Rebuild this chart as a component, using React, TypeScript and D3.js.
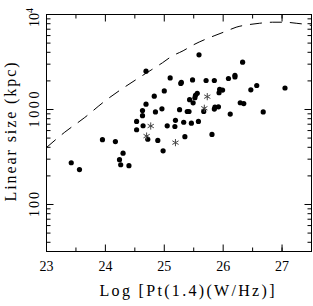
import React from 'react';
import * as d3 from 'd3';

// radio power (log W/Hz) and linear size (kpc) for the filled dots
const dotPower = [
  24.69, 24.83, 24.69, 24.63, 24.85, 24.63, 24.53, 24.64, 24.53, 24.72, 24.89, 23.95, 24.17,
  25.59, 26.33, 25.10, 25.29, 25.28, 25.48, 25.71, 25.85, 26.09, 26.20, 26.20, 25.00,
  25.56, 25.53, 25.52, 25.43, 25.49, 25.94, 25.99, 25.93, 26.47, 26.57, 27.05, 26.29, 26.35,
  26.68, 26.12, 25.86, 25.92, 25.85, 25.67, 25.26, 25.39, 25.42, 24.96, 25.19, 25.33, 25.46,
  25.58, 25.05, 25.18, 25.81, 25.35, 24.98, 23.42, 23.56, 24.24, 24.30, 24.26, 24.40,
];
const dotSize = [
  2530, 1380, 1137, 975, 942, 861, 748, 674, 612, 486, 472, 481, 460,
  3767, 3150, 2150, 1928, 1880, 2046, 2020, 2020, 2120, 2290, 2200, 1567,
  1480, 1410, 1330, 1270, 1175, 1625, 1600, 1500, 1610, 1790, 1683, 1178, 1154,
  942, 894, 1059, 1067, 1010, 955, 995, 953, 953, 1016, 769, 734, 717,
  748, 673, 662, 546, 517, 367, 275, 233, 296, 347, 262, 256,
];

// asterisk sources
const starPower = [24.77, 24.70, 25.73, 25.68, 25.19];
const starSize = [670, 525, 1365, 1030, 448];

// dashed limit curve
const curvePower = [23.0, 23.31, 23.65, 23.96, 24.63, 24.79, 24.97, 25.13, 25.32, 25.49, 25.69, 25.86, 26.05, 26.22, 26.45, 26.62, 26.84, 27.04, 27.24, 27.41, 27.5];
const curveSize = [398, 577, 824, 1185, 2280, 2635, 3105, 3640, 4150, 4775, 5455, 6010, 6670, 7345, 7850, 8090, 8295, 8295, 8090, 7850, 7660];

const xMajor = [23, 24, 25, 26, 27];
const xMinor = [23.5, 24.5, 25.5, 26.5, 27.0];
const yMajor = [100, 1000];
const yMinor = [40, 50, 60, 70, 80, 90, 200, 300, 400, 500, 600, 700, 800, 900, 2000, 3000, 4000, 5000, 6000, 7000, 8000, 9000];

const W = 313;
const H = 306;
const left = 46.5, right = 311.5, top = 14.5, bottom = 251.5;
const font = '"Liberation Serif", serif';

const App = () => {
  const x = d3.scaleLinear().domain([23, 27.5]).range([left, right]);
  const y = d3.scaleLog().domain([32, 10000]).range([bottom, top]);

  const curve = d3.line<number>()
    .x((_, i) => x(curvePower[i]))
    .y((d) => y(d))
    .curve(d3.curveMonotoneX)(curveSize);

  return (
    <svg width={W} height={H} style={{ position: 'absolute', left: 0, top: 0, background: '#fff' }}>
      <g stroke="#000" strokeWidth={1} fill="none">
        <rect x={left} y={top} width={right - left} height={bottom - top} />
        {xMajor.map((v) => (
          <g key={'xM' + v}>
            <line x1={x(v)} x2={x(v)} y1={bottom} y2={bottom - 7} />
            <line x1={x(v)} x2={x(v)} y1={top} y2={top + 7} />
          </g>
        ))}
        {xMinor.map((v) => (
          <g key={'xm' + v}>
            <line x1={x(v)} x2={x(v)} y1={bottom} y2={bottom - 4} />
            <line x1={x(v)} x2={x(v)} y1={top} y2={top + 4} />
          </g>
        ))}
        {yMajor.map((v) => (
          <g key={'yM' + v}>
            <line x1={left} x2={left + 7} y1={y(v)} y2={y(v)} />
            <line x1={right} x2={right - 7} y1={y(v)} y2={y(v)} />
          </g>
        ))}
        {yMinor.map((v) => (
          <g key={'ym' + v}>
            <line x1={left} x2={left + 4} y1={y(v)} y2={y(v)} />
            <line x1={right} x2={right - 4} y1={y(v)} y2={y(v)} />
          </g>
        ))}
      </g>

      <path d={curve || ''} fill="none" stroke="#000" strokeWidth={1} strokeDasharray="12,8" />

      {dotPower.map((p, i) => (
        <circle key={'d' + i} cx={x(p)} cy={y(dotSize[i])} r={2.6} fill="#000" />
      ))}

      {starPower.map((p, i) => {
        const cx = x(p);
        const cy = y(starSize[i]);
        const r = 3.6;
        return (
          <g key={'s' + i} stroke="#444" strokeWidth={1}>
            {[90, 30, 150].map((a) => {
              const rad = (a * Math.PI) / 180;
              return (
                <line key={a} x1={cx - r * Math.cos(rad)} y1={cy - r * Math.sin(rad)}
                  x2={cx + r * Math.cos(rad)} y2={cy + r * Math.sin(rad)} />
              );
            })}
          </g>
        );
      })}

      <g fontFamily={font} fontSize={14} fill="#000">
        {xMajor.map((v) => (
          <text key={'xl' + v} x={x(v)} y={271} textAnchor="middle">{v}</text>
        ))}
        <text transform={`translate(39,${y(1000)}) rotate(-90)`} textAnchor="middle" textLength={36}>1000</text>
        <text transform={`translate(39,${y(100)}) rotate(-90)`} textAnchor="middle" textLength={25}>100</text>
        <text transform="translate(39,27) rotate(-90)" textAnchor="start">
          10<tspan dy={-6} fontSize={10}>4</tspan>
        </text>
      </g>

      <text x={187} y={296} fontFamily={font} fontSize={16} textAnchor="middle"
        textLength={175} lengthAdjust="spacing">Log [Pt(1.4)(W/Hz)]</text>
      <text transform="translate(16,132) rotate(-90)" fontFamily={font} fontSize={16}
        textAnchor="middle" textLength={139} lengthAdjust="spacing">Linear size (kpc)</text>
    </svg>
  );
};

export default App;
